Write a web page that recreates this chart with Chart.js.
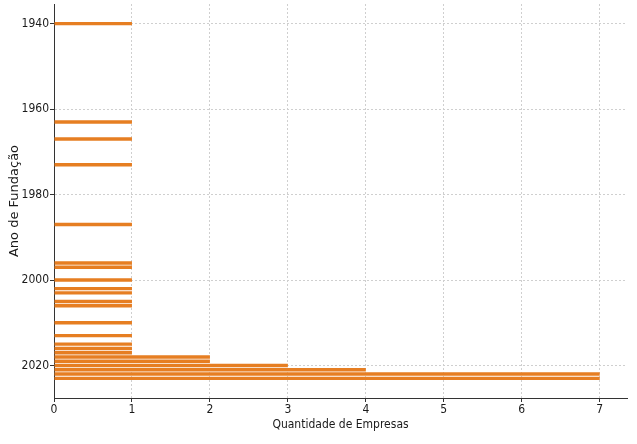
<!DOCTYPE html>
<html>
<head>
<meta charset="utf-8">
<script src="https://cdn.jsdelivr.net/npm/chart.js@4/dist/chart.umd.min.js"></script>
<style>
  html, body { margin: 0; padding: 0; background: #fff; }
  #wrap { width: 637px; height: 444px; }
</style>
</head>
<body>
<div id="wrap"><canvas id="graficoFundacao" width="637" height="444"></canvas></div>
<script>
// dados
const anos = [1940, 1963, 1967, 1973, 1987, 1996, 1997, 2000, 2002, 2003, 2005, 2006,
    2010, 2013, 2015, 2016, 2017, 2018, 2019, 2020, 2021, 2022, 2023];
const quantidades = [1, 1, 1, 1, 1, 1, 1, 1, 1, 1, 1, 1,
    1, 1, 1, 1, 1, 2, 2, 3, 4, 7, 7];
const ticksAno = [1940, 1960, 1980, 2000, 2020];
const ticksQtd = [0, 1, 2, 3, 4, 5, 6, 7];

const ctx = document.getElementById('graficoFundacao').getContext('2d');
const fonte = { family: "'DejaVu Sans Condensed', 'DejaVu Sans'", size: 12 };
const fonteTituloY = { family: 'DejaVu Sans', size: 13 }; // texto vertical, sem compressao

const grafico = new Chart(ctx, {
    type: 'bar',
    data: {
        datasets: [{
            label: 'Empresas',
            data: anos.map((ano, i) => ({ x: quantidades[i], y: ano })),
            backgroundColor: '#e67e22',
            borderWidth: 0,
            categoryPercentage: 1,
            barPercentage: 0.8
        }]
    },
    options: {
        indexAxis: 'y',
        responsive: false,
        animation: false,
        devicePixelRatio: 1,
        layout: { padding: { top: 4, right: 10, bottom: 0, left: 0 } },
        plugins: {
            legend: { display: false },
            tooltip: { enabled: false }
        },
        scales: {
            x: {
                type: 'linear',
                min: 0,
                max: 7.35,
                afterBuildTicks: axis => { axis.ticks = ticksQtd.map(v => ({ value: v })); },
                afterFit: axis => { axis.height = 46; },
                grid: { color: '#cfcfcf', tickColor: '#333', tickLength: 4 },
                border: { display: true, color: '#333', width: 1, dash: [2, 2] },
                ticks: { color: '#1a1a1a', font: fonte, padding: 1, maxRotation: 0 },
                title: {
                    display: true,
                    text: 'Quantidade de Empresas',
                    color: '#1a1a1a',
                    font: fonte,
                    padding: { top: 0, bottom: 12 }
                }
            },
            y: {
                type: 'linear',
                reverse: true,
                offset: false,
                min: 1935.4,
                max: 2027.6,
                afterBuildTicks: axis => { axis.ticks = ticksAno.map(v => ({ value: v })); },
                afterFit: axis => {
                    axis.width = 54;
                    axis.paddingTop = 0; // tira a folga dos rotulos no topo
                    axis.paddingBottom = 0;
                },
                grid: { offset: false, color: '#cfcfcf', tickColor: '#333', tickLength: 4 },
                border: { display: true, color: '#333', width: 1, dash: [2, 2] },
                ticks: {
                    color: '#1a1a1a',
                    font: fonte,
                    padding: 1,
                    callback: v => String(v) // sem separador de milhar
                },
                title: {
                    display: true,
                    text: 'Ano de Fundação',
                    color: '#1a1a1a',
                    font: fonteTituloY,
                    padding: { top: 7, bottom: 0 }
                }
            }
        }
    }
});
</script>
</body>
</html>
